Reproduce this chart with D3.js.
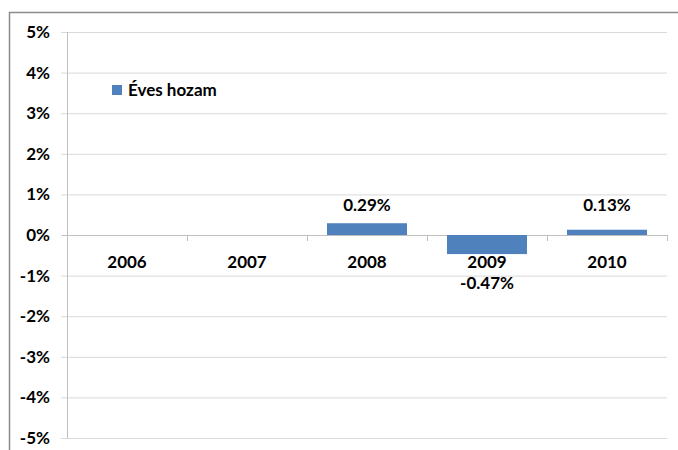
<!DOCTYPE html>
<html>
<head>
<meta charset="utf-8">
<script src="https://cdn.jsdelivr.net/npm/d3@7"></script>
<style>
  body { margin: 0; background: #fff; }
  text { font-family: Lato, "Open Sans", sans-serif; font-weight: bold; fill: #000; }
</style>
</head>
<body>
<div id="chart"></div>
<script>
// data
const years = ["2006", "2007", "2008", "2009", "2010"];
const returns = [null, null, 0.29, -0.47, 0.13];
const yTicks = [5, 4, 3, 2, 1, 0, -1, -2, -3, -4, -5];
const seriesName = "Éves hozam";

const width = 678, height = 450;

const svg = d3.select("#chart").append("svg")
  .attr("width", width).attr("height", height);

// outer frame
svg.append("path")
  .attr("d", `M9.5,${height} V12.5 H${width}`)
  .attr("fill", "none")
  .attr("stroke", "#8c8c8c")
  .attr("stroke-width", 1.5);

const x = d3.scaleBand().domain(years).range([67, 667]).paddingInner(1 / 3).paddingOuter(1 / 6);
const y = d3.scaleLinear().domain([-5, 5]).range([438, 32]);

// gridlines + y labels
const yAxis = d3.axisLeft(y)
  .tickValues(yTicks)
  .tickSize(-(667 - 67))
  .tickPadding(17)
  .tickFormat(d => d + "%");

svg.append("g")
  .attr("transform", "translate(67,0)")
  .call(yAxis)
  .call(g => g.select(".domain").remove())
  .call(g => g.selectAll(".tick line").attr("stroke", "#d9d9d9").attr("x1", -6))
  .call(g => g.selectAll(".tick text").style("font-size", "17px").attr("x", -17));

// vertical axis line
svg.append("line")
  .attr("x1", 67.5).attr("x2", 67.5)
  .attr("y1", 32).attr("y2", 438)
  .attr("stroke", "#bfbfbf");

// zero axis with category ticks
const bounds = d3.range(years.length + 1).map(i => 67 + i * 120);
svg.append("line")
  .attr("x1", 62).attr("x2", 667)
  .attr("y1", y(0) + 0.5).attr("y2", y(0) + 0.5)
  .attr("stroke", "#bfbfbf");
svg.selectAll(".cat-tick")
  .data(bounds)
  .join("line")
  .attr("class", "cat-tick")
  .attr("x1", d => d + 0.5).attr("x2", d => d + 0.5)
  .attr("y1", y(0)).attr("y2", y(0) + 6)
  .attr("stroke", "#bfbfbf");

// bars
const data = years.map((yr, i) => ({ year: yr, value: returns[i] }));
svg.selectAll(".bar")
  .data(data.filter(d => d.value !== null))
  .join("rect")
  .attr("class", "bar")
  .attr("x", d => x(d.year))
  .attr("width", x.bandwidth())
  .attr("y", d => y(Math.max(0, d.value)))
  .attr("height", d => Math.abs(y(d.value) - y(0)))
  .attr("fill", "#4f81bd");

// category labels
svg.selectAll(".cat-label")
  .data(years)
  .join("text")
  .attr("class", "cat-label")
  .attr("x", d => x(d) + x.bandwidth() / 2)
  .attr("y", 268)
  .attr("text-anchor", "middle")
  .style("font-size", "17px")
  .text(d => d);

// value labels
svg.selectAll(".val-label")
  .data(data.filter(d => d.value !== null))
  .join("text")
  .attr("class", "val-label")
  .attr("x", d => x(d.year) + x.bandwidth() / 2)
  .attr("y", d => d.value >= 0 ? 211 : 289)
  .attr("text-anchor", "middle")
  .style("font-size", "17px")
  .text(d => d.value.toFixed(2) + "%");

// legend
svg.append("rect")
  .attr("x", 112).attr("y", 85)
  .attr("width", 10).attr("height", 10)
  .attr("fill", "#4f81bd");
svg.append("text")
  .attr("x", 128).attr("y", 96)
  .style("font-size", "17px")
  .text(seriesName);
</script>
</body>
</html>
